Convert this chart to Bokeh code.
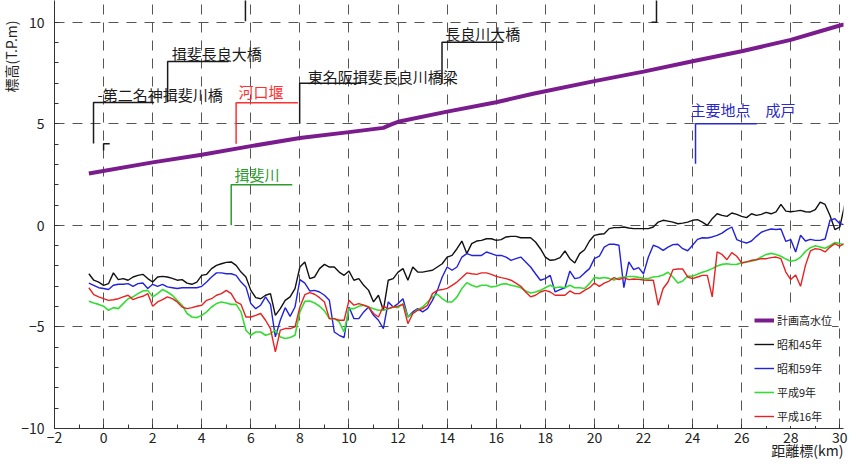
import numpy as np
from bokeh.plotting import figure
from bokeh.models import FixedTicker, Legend, LegendItem, Range1d, Title
from bokeh.embed import file_html
from bokeh.resources import INLINE
from bokeh.core.properties import value

# ---------------- data ----------------
# distance marks (km), every 0.2 km
km = np.round(np.arange(-0.6, 30.41, 0.2), 1)

# 計画高水位 (planned high water level)
pw_km = [-0.6, 2.0, 4.0, 6.0, 8.0, 10.0, 11.4, 11.7, 12.0, 14.0, 16.0, 17.5, 20.0, 22.0, 24.0, 26.0, 28.0, 30.0, 30.4]
pw_el = [2.55, 3.10, 3.48, 3.90, 4.30, 4.59, 4.80, 4.96, 5.10, 5.60, 6.06, 6.48, 7.10, 7.57, 8.08, 8.57, 9.13, 9.84, 9.95]

# 昭和45年
s45 = [-2.38, -2.70, -2.79, -2.95, -2.87, -2.34, -2.67, -2.62, -2.70, -2.54,
       -2.46, -2.41, -2.62, -2.79, -2.54, -2.51, -2.54, -2.61, -2.70, -2.67,
       -2.84, -2.90, -2.79, -2.46, -2.41, -2.13, -1.97, -1.89, -1.82, -1.80,
       -1.97, -2.30, -2.54, -3.20, -3.56, -3.61, -3.44, -3.36, -4.43, -4.10,
       -3.69, -3.52, -3.11,
       -2.05, -1.80, -2.62, -2.54, -2.13, -1.92, -2.05, -2.05, -2.30, -2.46,
       -2.25, -2.70, -2.62, -2.95, -3.20, -3.77, -3.44, -4.18, -2.70, -2.62,
       -2.30, -2.13, -2.70, -2.05, -2.30, -2.30, -2.25, -2.21, -2.05, -1.89,
       -1.56, -1.48, -1.15, -0.77, -1.39, -0.90, -0.77, -0.74, -0.66, -0.66,
       -0.74, -0.70, -0.57, -0.54, -0.54, -0.61, -0.61, -0.61, -0.82, -1.15,
       -1.56, -1.72, -1.69, -1.59, -1.26, -1.64, -1.85, -1.39, -1.20, -0.77,
       -0.49, -0.44, -0.41, -0.16, -0.11, -0.11, -0.08, -0.13, -0.16, -0.16,
       -0.16, -0.16, -0.08, 0.16, 0.25, 0.21, 0.16, 0.08, 0.11, 0.16,
       0.25, 0.28, 0.16, 0.00, 0.33, 0.57, 0.49, 0.44, 0.61, 0.54,
       0.44, 0.38, 0.57, 0.49, 0.54, 0.64, 0.57, 0.66, 1.03, 0.70,
       0.67, 0.70, 0.74, 0.67, 0.66, 0.77, 1.15, 1.03, 0.49, -0.21,
       -0.08, 1.03, 1.15]

# 昭和59年
s59 = [-2.84, -2.95, -3.07, -3.11, -3.16, -2.95, -2.90, -2.90, -2.87, -3.00,
       -2.87, -2.84, -3.11, -2.90, -3.00, -2.90, -3.03, -3.07, -3.11, -3.07,
       -3.07, -3.07, -3.07, -3.00, -2.79, -2.54, -2.34, -2.34, -2.38, -2.38,
       -2.46, -2.79, -3.03, -3.85, -4.10, -3.93, -3.52, -3.89, -5.49, -4.67,
       -4.05, -4.48, -4.02,
       -2.67, -2.84, -3.23, -3.20, -3.28, -3.44, -3.69, -5.25, -5.41, -5.52,
       -4.02, -4.59, -4.59, -4.26, -4.02, -4.43, -4.67, -5.08, -3.77, -4.02,
       -3.85, -3.61, -4.51, -4.26, -4.10, -4.26, -4.10, -3.69, -3.20, -2.54,
       -2.05, -2.21, -2.05, -1.56, -1.39, -1.48, -1.48, -1.48, -1.31, -1.39,
       -1.48, -1.48, -1.56, -1.72, -1.64, -1.56, -1.80, -2.05, -2.38, -2.70,
       -2.62, -2.46, -3.28, -3.16, -3.07, -2.25, -2.62, -2.57, -2.34, -2.13,
       -1.64, -1.52, -1.07, -0.93, -0.93, -0.98, -3.07, -1.80, -2.18, -2.08,
       -2.38, -1.56, -0.98, -1.07, -1.23, -1.07, -0.95, -0.93, -1.15, -1.25,
       -0.98, -0.69, -0.61, -0.62, -0.57, -0.49, -0.38, -0.21, -0.08, -0.70,
       -0.80, -0.87, -0.77, -0.54, -0.34, -0.25, -0.18, -0.20, -0.18, -0.79,
       -0.70, -1.31, -0.49, -0.77, -0.69, -0.74, -0.74, -0.67, 0.25, 0.33,
       0.08, 0.03, -0.16]

# 平成9年
h09 = [-3.74, -3.82, -3.89, -3.98, -4.18, -4.05, -4.10, -3.85, -3.61, -3.52,
       -3.36, -3.23, -3.20, -3.52, -3.36, -3.16, -3.28, -3.44, -3.69, -3.93,
       -4.34, -4.51, -4.54, -4.43, -4.26, -4.02, -3.85, -3.77, -3.82, -3.89,
       -3.89, -4.26, -5.16, -5.41, -5.25, -5.25, -5.41, -5.33, -5.16, -5.49,
       -5.57, -5.52, -5.41,
       -4.26, -3.74, -3.72, -3.82, -3.98, -4.21, -4.59, -4.59, -4.75, -5.25,
       -4.10, -4.10, -3.98, -3.93, -4.02, -4.10, -4.18, -4.18, -4.10, -4.02,
       -4.05, -3.85, -4.51, -4.34, -4.15, -4.02, -3.77, -3.52, -3.39, -3.61,
       -3.77, -3.77, -3.52, -3.11, -2.82, -2.95, -3.03, -2.95, -2.95, -3.03,
       -3.00, -2.90, -2.87, -2.95, -3.00, -3.07, -3.23, -3.33, -3.28, -3.20,
       -3.07, -2.95, -3.07, -3.03, -3.07, -2.95, -3.07, -3.07, -3.11, -2.87,
       -2.56, -2.61, -2.57, -2.61, -2.69, -2.59, -2.54, -2.52, -2.52, -2.56,
       -2.61, -2.62, -2.54, -2.52, -2.44, -2.31, -2.54, -2.84, -2.74, -2.49,
       -2.51, -2.41, -2.31, -2.23, -2.13, -2.00, -1.92, -1.89, -1.93, -1.92,
       -1.84, -1.80, -1.77, -1.69, -1.56, -1.43, -1.38, -1.43, -1.52, -1.66,
       -1.77, -1.72, -1.56, -1.28, -1.10, -1.00, -1.07, -1.13, -1.00, -0.84,
       -0.90, -0.97, -1.15]

# 平成16年
h16 = [-3.07, -3.41, -3.52, -3.61, -3.69, -3.66, -3.61, -3.52, -3.44, -3.66,
       -3.56, -3.49, -3.36, -3.98, -3.77, -3.66, -3.52, -3.61, -3.77, -4.02,
       -4.10, -4.05, -3.98, -3.93, -3.69, -3.61, -3.44, -3.36, -3.20, -3.36,
       -3.77, -3.89, -4.51, -4.51, -4.43, -4.34, -4.67, -5.08, -6.23, -5.16,
       -5.08, -5.08, -5.00,
       -4.02, -3.41, -3.31, -3.39, -3.56, -3.77, -4.59, -4.59, -4.67, -4.67,
       -3.69, -3.93, -3.85, -3.93, -4.02, -4.34, -4.51, -3.98, -4.10, -4.02,
       -3.98, -3.89, -4.84, -4.34, -4.18, -4.10, -3.93, -3.36, -3.20, -3.16,
       -3.10, -2.95, -2.79, -2.57, -2.34, -2.38, -2.41, -2.34, -2.34, -2.41,
       -2.51, -2.57, -2.62, -2.70, -2.84, -3.00, -3.28, -3.52, -3.44, -3.28,
       -3.20, -3.28, -3.44, -3.44, -3.44, -3.23, -3.36, -3.36, -3.20, -3.07,
       -2.84, -3.00, -2.84, -2.74, -2.57, -2.67, -2.57, -2.67, -2.64, -2.66,
       -2.69, -2.70, -2.70, -3.93, -3.11, -2.79, -2.18, -2.15, -2.15, -2.54,
       -2.62, -2.54, -2.46, -2.46, -3.52, -1.31, -1.43, -1.69, -1.34, -1.52,
       -1.85, -1.80, -1.72, -1.69, -1.64, -1.64, -1.59, -1.56, -1.64, -2.30,
       -2.67, -2.44, -3.00, -1.97, -1.26, -1.15, -1.18, -1.31, -1.07, -0.90,
       -1.03, -0.87, -1.15]

# landmarks (leader lines and labels)
lm_names = ["-第二名神揖斐川橋", "揖斐長良大橋", "河口堰", "揖斐川",
            "東名阪揖斐長良川橋梁", "長良川大橋", "主要地点　成戸"]
lm_km = [-0.41, 2.61, 5.40, 5.20, 7.99, 13.79, 24.12]
lm_base = [4.03, 6.06, 4.02, 0.00, 5.00, 6.97, 3.03]
lm_top = [6.05, 8.07, 6.04, 2.00, 7.00, 9.02, 5.00]
lm_end = [2.06, 5.10, 7.92, 7.69, 10.50, 16.29, 26.62]
lm_text_km = [-0.25, 2.78, 5.50, 5.33, 8.32, 13.92, 23.92]
lm_text_el = [6.44, 8.48, 6.60, 2.51, 7.33, 9.46, 5.69]
lm_colors = ["#1a1a1a", "#1a1a1a", "#ff3030", "#2e9b2e", "#1a1a1a", "#1a1a1a", "#2a2acc"]

# short cut-off leader marks
mk_xs = [[0.25, 0.0, 0.0], [5.78, 5.78], [22.33, 22.53, 22.53]]
mk_ys = [[4.02, 4.02, 3.69], [10.05, 11.2], [10.0, 10.0, 11.2]]

x_ticks = list(range(-2, 31, 2))
x_minor = list(range(-2, 31))
y_ticks = [-10, -5, 0, 5, 10]
y_minor = list(range(-10, 11))

FONT = "Noto Sans CJK JP"

# ---------------- figure ----------------
p = figure(width=848, height=459, x_range=Range1d(-2, 30.15), y_range=Range1d(-10, 11.07),
           output_backend="svg", toolbar_location=None,
           min_border_left=51, min_border_right=5, min_border_top=0, min_border_bottom=31)
p.title.visible = False
p.outline_line_color = None
p.background_fill_color = "white"

p.xaxis.ticker = FixedTicker(ticks=x_ticks, minor_ticks=x_minor)
p.yaxis.ticker = FixedTicker(ticks=y_ticks, minor_ticks=y_minor)
p.xaxis.major_label_overrides = {-2: "−2"}
p.yaxis.major_label_overrides = {-10: "−10", -5: "−5"}
for ax in (p.xaxis, p.yaxis):
    ax.axis_line_color = "#333333"
    ax.major_tick_line_color = "#333333"
    ax.minor_tick_line_color = "#333333"
    ax.major_tick_in = 4
    ax.major_tick_out = 0
    ax.minor_tick_in = 4
    ax.minor_tick_out = 0
    ax.major_label_text_font = FONT
    ax.major_label_text_font_size = "14px"
    ax.major_label_text_color = "#222222"
p.xaxis.major_label_standoff = 3
p.yaxis.major_label_standoff = 10


def side_title(text, offset, standoff):
    t = Title(text=text, align="right", offset=offset, text_font=FONT,
              text_font_size="14px", text_font_style="normal", text_color="#222222")
    for s in (standoff, 0):
        try:
            t.standoff = s
            break
        except Exception:
            pass
    return t


p.add_layout(side_title("距離標(km)", 0, -15), "below")
p.add_layout(side_title("標高(T.P.m)", 20, -4), "left")

p.grid.grid_line_color = "#555555"
p.grid.grid_line_dash = "10 8"
p.grid.grid_line_width = 1

# profiles
r45 = p.line(km, s45, line_color="#111111", line_width=1.4)
r59 = p.line(km, s59, line_color="#2222dd", line_width=1.4)
r09 = p.line(km, h09, line_color="#33dd33", line_width=1.6)
r16 = p.line(km, h16, line_color="#e82222", line_width=1.4)
rpw = p.line(pw_km, pw_el, line_color="#7b1c8e", line_width=4)

# landmark leaders
lead_xs = [[k, k, e] for k, e in zip(lm_km, lm_end)]
lead_ys = [[b, t, t] for b, t in zip(lm_base, lm_top)]
p.multi_line(lead_xs, lead_ys, line_color=lm_colors, line_width=1.5)
p.multi_line(mk_xs, mk_ys, line_color="#1a1a1a", line_width=1.5)
p.text(lm_text_km, lm_text_el, text=lm_names, text_color=lm_colors,
       text_font=value(FONT), text_font_size="15px",
       text_baseline="middle", text_align="left")

legend = Legend(items=[LegendItem(label="計画高水位", renderers=[rpw]),
                       LegendItem(label="昭和45年", renderers=[r45]),
                       LegendItem(label="昭和59年", renderers=[r59]),
                       LegendItem(label="平成9年", renderers=[r09]),
                       LegendItem(label="平成16年", renderers=[r16])],
                location=(700, 2), background_fill_color="white", background_fill_alpha=1.0,
                border_line_color=None, padding=6, spacing=4, margin=0,
                glyph_width=20, glyph_height=20, label_height=20, label_standoff=3,
                label_text_font=FONT, label_text_font_size="11px", label_text_color="#222222")
p.add_layout(legend)

open("out.html", "w").write(file_html(p, INLINE))
